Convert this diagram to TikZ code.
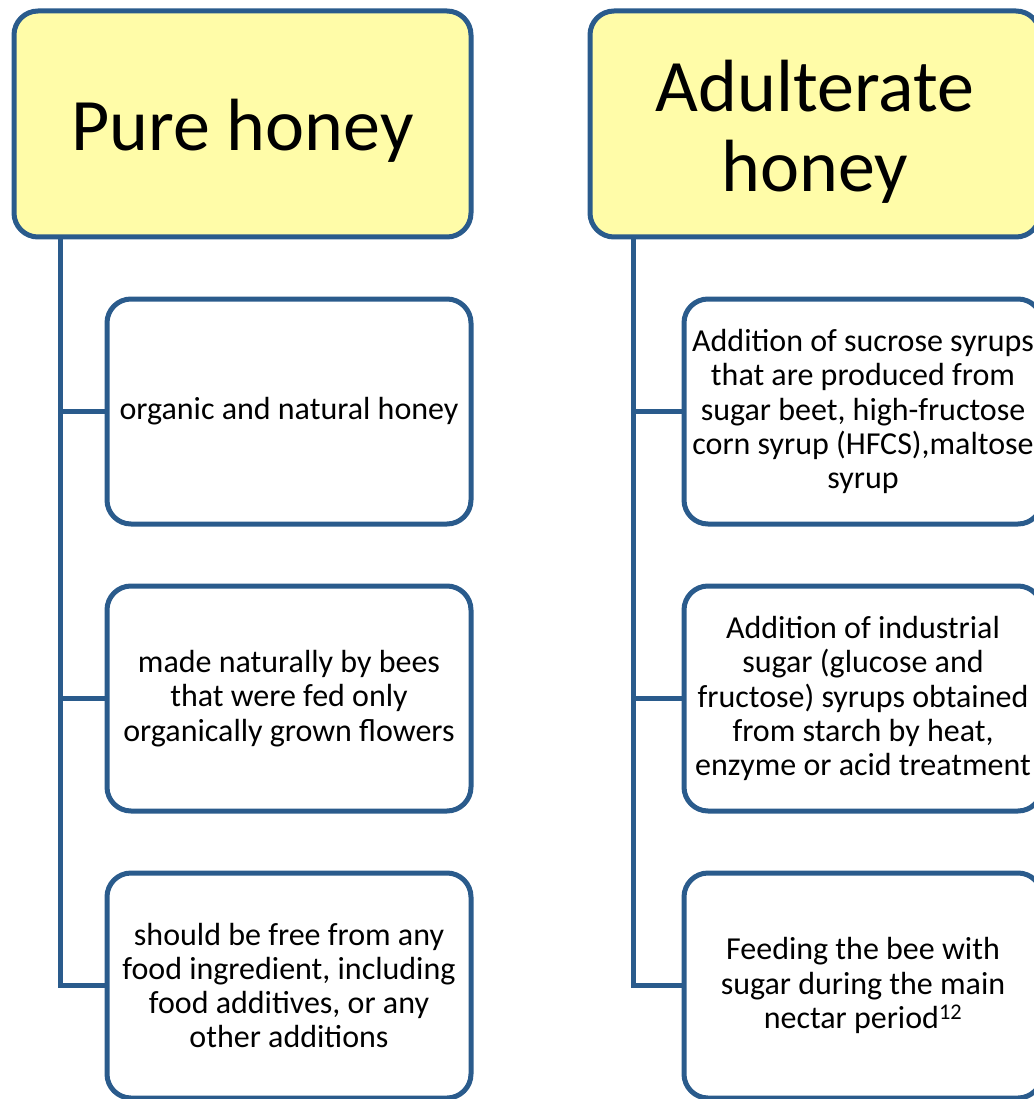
\documentclass[tikz,border=0pt]{standalone}
\usepackage{fontspec}
\setmainfont{Carlito}
\usepackage{xcolor}
\usetikzlibrary{positioning}
\definecolor{treeblue}{RGB}{42,91,140}
\definecolor{honeyyellow}{RGB}{255,252,168}
\tikzstyle{header} = [rectangle, draw=treeblue, line width=5pt, fill=honeyyellow, rounded corners=24pt, align=center, inner sep=0pt, outer sep=0pt, font=\fontsize{74}{80}\selectfont]
\tikzstyle{leaf} = [rectangle, draw=treeblue, line width=5pt, rounded corners=24pt, align=center, inner sep=0pt, outer sep=0pt, minimum height=225pt, font=\fontsize{32}{34.3}\selectfont]
\tikzstyle{link} = [draw=treeblue, line width=5pt]

\begin{document}
\begin{tikzpicture}[x=1pt, y=-1pt, node distance = 62pt]
            \useasboundingbox (0,0) rectangle (1033,1099);

            \node[header, minimum width=457pt, minimum height=226pt] (pure) at (242.5,124)
                {\raisebox{-7pt}[\height][\depth]{Pure honey}};

            \node[header, minimum width=450pt, minimum height=226pt] (adult) at (815,124)
                {\raisebox{-12pt}[\height][\depth]{\begin{tabular}{@{}c@{}}Adulterate\\honey\end{tabular}}};

            % pure honey branch
            \node[leaf, minimum width=364pt, below right=62pt and -364pt of pure.south east] (organic)
                {organic and natural honey};

            \node[leaf, minimum width=364pt, below=of organic] (naturally)
                {made naturally by bees\\that were fed only\\organically grown flowers};

            \node[leaf, minimum width=364pt, below=of naturally] (free)
                {should be free from any\\food ingredient, including\\food additives, or any\\other additions};

            % adulterate honey branch
            \node[leaf, minimum width=358pt, below right=62pt and -356pt of adult.south east] (sucrose)
                {Addition of sucrose syrups\\that are produced from\\sugar beet, high-fructose\\corn syrup (HFCS),maltose\\syrup};

            \node[leaf, minimum width=358pt, below=of sucrose] (industrial)
                {Addition of industrial\\sugar (glucose and\\fructose) syrups obtained\\from starch by heat,\\enzyme or acid treatment};

            \node[leaf, minimum width=358pt, below=of industrial] (feeding)
                {Feeding the bee with\\sugar during the main\\nectar period\textsuperscript{12}};

            \coordinate (pstem) at (60,0);
            \coordinate (astem) at (633,0);

            \path[link] (pstem |- pure.south) |- (organic.west);
            \path[link] (pstem |- pure.south) |- (naturally.west);
            \path[link] (pstem |- pure.south) |- (free.west);

            \path[link] (astem |- adult.south) |- (sucrose.west);
            \path[link] (astem |- adult.south) |- (industrial.west);
            \path[link] (astem |- adult.south) |- (feeding.west);

        \end{tikzpicture}
\end{document}
